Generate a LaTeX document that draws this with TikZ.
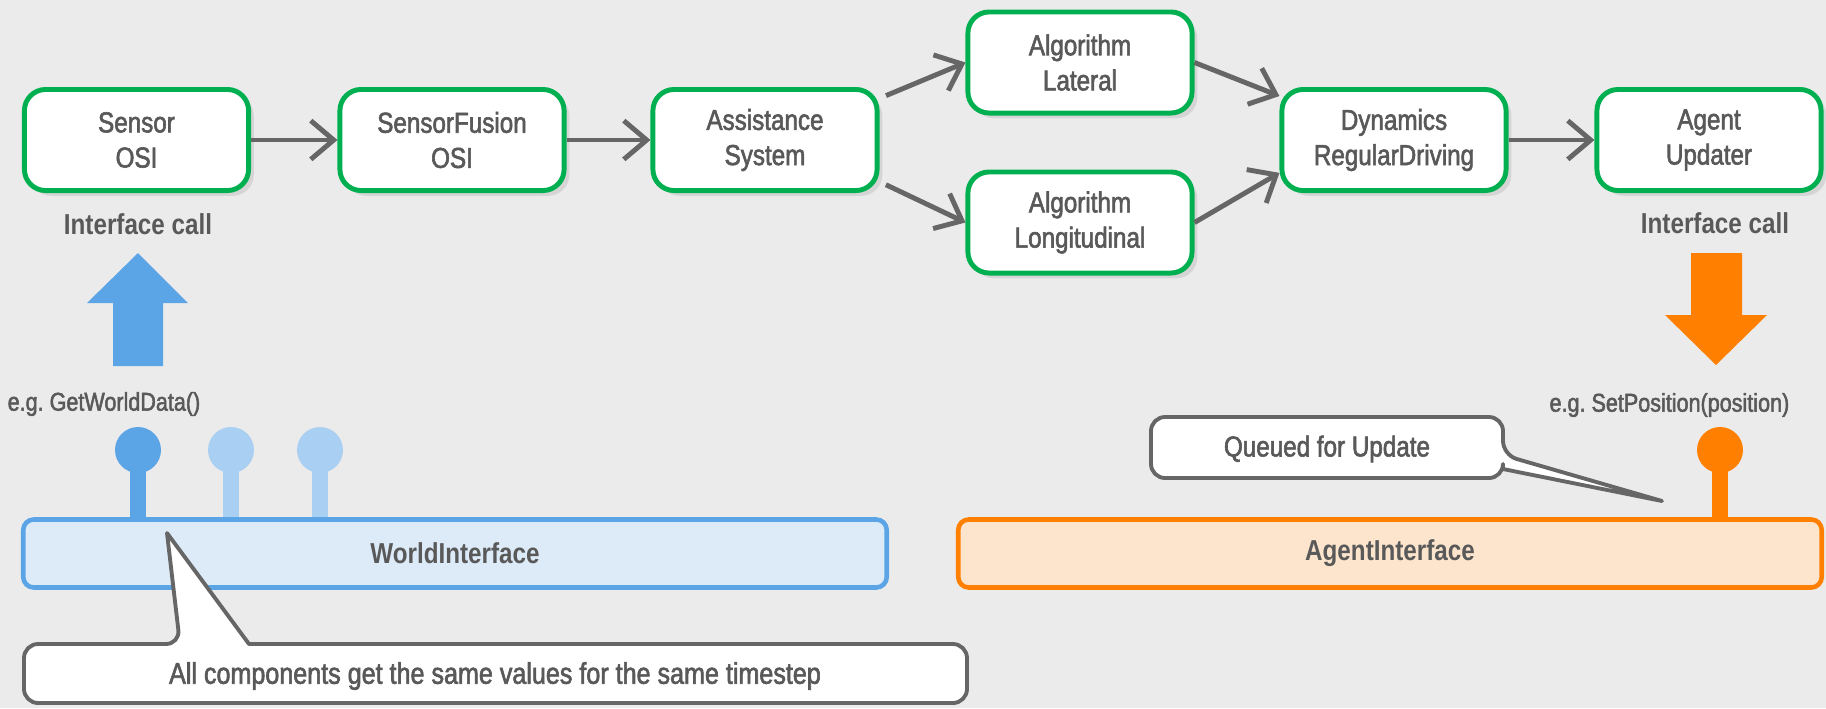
\documentclass[tikz,border=0pt]{standalone}
\usepackage{fontspec}
\setmainfont{Liberation Sans}[FakeStretch=0.84,UprightFeatures={FakeBold=2}]
\usetikzlibrary{arrows.meta,shadows}
\definecolor{bgcol}{HTML}{EBEBEB}
\definecolor{boxgreen}{HTML}{00B050}
\definecolor{txtgray}{HTML}{595959}
\definecolor{arrgray}{HTML}{666666}
\definecolor{wblue}{HTML}{5BA5E6}
\definecolor{wlight}{HTML}{A9CFF2}
\definecolor{wfill}{HTML}{DDEBF8}
\definecolor{aorange}{HTML}{FF8000}
\definecolor{afill}{HTML}{FDE5CD}
\tikzset{
  comp/.style={draw=boxgreen,line width=1.4pt,fill=white,rounded corners=6pt,
    minimum width=2.24cm,minimum height=1.01cm,align=center,text=txtgray,
    font=\fontsize{8.2}{10}\selectfont,
    drop shadow={shadow xshift=1.5pt,shadow yshift=-1.5pt,opacity=0.2}},
  flow/.style={draw=arrgray,line width=1.4pt,-{Straight Barb[length=6.5pt,width=11pt]}},
  iface/.style={line width=1.3pt,rounded corners=3pt,minimum width=8.63cm,
    minimum height=0.68cm,text=txtgray,font=\fontsize{8.2}{10}\selectfont\bfseries},
  note/.style={draw=arrgray,line width=1.1pt,fill=white,line join=round},
  lbl/.style={text=txtgray,font=\fontsize{8.2}{10}\selectfont},
  lblb/.style={text=txtgray,font=\fontsize{8.2}{10}\selectfont\bfseries},
  small/.style={text=txtgray,inner sep=0pt,font=\fontsize{7.3}{9}\selectfont}
}
\begin{document}
\begin{tikzpicture}[x=0.01cm,y=-0.01cm]
\fill[bgcol] (0,0) rectangle (1826,708);
\useasboundingbox (0,0) rectangle (1826,708);
% component chain
\node[comp] (sensor) at (136.5,140) {Sensor\\OSI};
\node[comp] (fusion) at (452,140) {SensorFusion\\OSI};
\node[comp] (assist) at (765,140) {Assistance\\System};
\node[comp] (lat) at (1080,62.5) {Algorithm\\Lateral};
\node[comp] (lon) at (1080,222.5) {Algorithm\\Longitudinal};
\node[comp] (dyn) at (1394,140) {Dynamics\\RegularDriving};
\node[comp] (agent) at (1709,140) {Agent\\Updater};
\draw[flow] (sensor) -- (fusion);
\draw[flow] (fusion) -- (assist);
\draw[flow,shorten <=2pt] (assist.20) -- (lat.west);
\draw[flow,shorten <=2pt] (assist.-20) -- (lon.west);
\draw[flow] (lat.east) -- (dyn.159);
\draw[flow] (lon.east) -- (dyn.196);
\draw[flow] (dyn) -- (agent);
% interface calls
\node[lblb] (wcall) at (138,224) {Interface call};
\node[lblb] (acall) at (1715,223) {Interface call};
\fill[wblue] (113,366) -- (113,303) -- (87,303) -- (138,253) -- (188,303) -- (163,303) -- (163,366) -- cycle;
\fill[aorange] (1691,253) -- (1742,253) -- (1742,315) -- (1767,315) -- (1716,365) -- (1665,315) -- (1691,315) -- cycle;
\node[small,anchor=west] (wget) at (7,404) {e.g.\ GetWorldData()};
\node[small,anchor=east] (aset) at (1790,405) {e.g.\ SetPosition(position)};
\foreach \x/\c in {138/wblue,231/wlight,320/wlight,1720/aorange}{
  \draw[\c,line width=4.3pt] (\x,450) -- (\x,519);
  \fill[\c] (\x,450) circle (23);
}
% interfaces
\node[iface,draw=wblue,fill=wfill] (world) at (455,553.5) {WorldInterface};
\node[iface,draw=aorange,fill=afill] (agentif) at (1390,553.5) {AgentInterface};
% notes
\coordinate (wtip) at (167,533);
\draw[note] (24,673) [rounded corners=4pt] -- (24,644) -- (180,644) [sharp corners] -- (wtip) -- (249,644) [rounded corners=4pt] -- (967,644) -- (967,703) -- (24,703) -- cycle;
\node[lbl,font=\fontsize{8.5}{10}\selectfont] (allnote) at (495,676) {All components get the same values for the same timestep};
\coordinate (qtip) at (1662,501);
\draw[note] (1151,447) [rounded corners=4pt] -- (1151,417) -- (1503,417) -- (1503,455) [sharp corners] -- (qtip) -- (1503,469) [rounded corners=4pt] -- (1503,478) -- (1151,478) -- cycle;
\node[lbl] (queued) at (1327,449) {Queued for Update};
\end{tikzpicture}
\end{document}
